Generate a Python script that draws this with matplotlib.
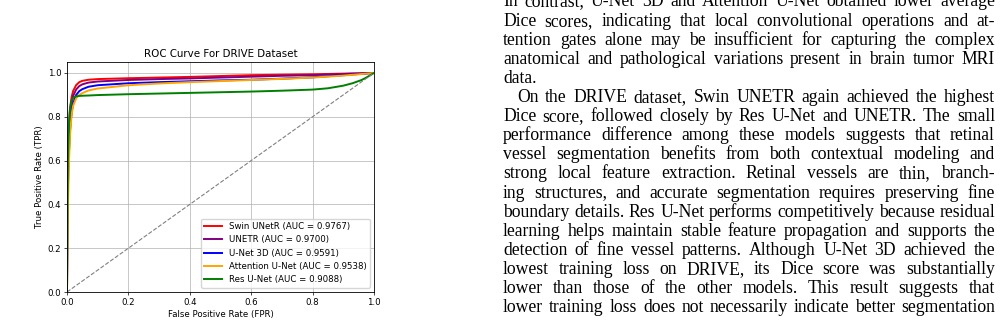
import matplotlib
matplotlib.use("Agg")
import matplotlib.pyplot as plt

# ROC points
fpr = [0, 0.001, 0.003, 0.006, 0.01, 0.015, 0.02, 0.03, 0.04, 0.05, 0.07,
       0.1, 0.2, 0.3, 0.4, 0.5, 0.6, 0.7, 0.8, 0.9, 1.0]
tpr_swin = [0, 0.35, 0.62, 0.76, 0.84, 0.89, 0.918, 0.945, 0.958, 0.964, 0.969,
            0.972, 0.976, 0.979, 0.982, 0.986, 0.99, 0.992, 0.994, 0.997, 1.0]
tpr_unetr = [0, 0.3, 0.56, 0.71, 0.8, 0.86, 0.895, 0.925, 0.94, 0.948, 0.956,
             0.961, 0.968, 0.972, 0.975, 0.979, 0.983, 0.987, 0.99, 0.995, 1.0]
tpr_unet3d = [0, 0.25, 0.48, 0.63, 0.74, 0.82, 0.86, 0.9, 0.917, 0.926, 0.937,
              0.944, 0.953, 0.958, 0.962, 0.966, 0.969, 0.974, 0.98, 0.99, 1.0]
tpr_att = [0, 0.15, 0.38, 0.58, 0.72, 0.81, 0.85, 0.885, 0.9, 0.908, 0.92,
           0.929, 0.944, 0.952, 0.958, 0.963, 0.968, 0.973, 0.979, 0.988, 1.0]
fpr_res = [0, 0.001, 0.003, 0.006, 0.01, 0.015, 0.02, 0.03, 0.04, 0.05, 0.07,
           0.1, 0.2, 0.3, 0.4, 0.5, 0.6, 0.7, 0.8, 0.85, 0.9, 0.93, 0.96, 0.98, 1.0]
tpr_res = [0, 0.3, 0.6, 0.76, 0.84, 0.875, 0.887, 0.893, 0.895, 0.896, 0.897,
           0.899, 0.903, 0.906, 0.909, 0.912, 0.915, 0.919, 0.924, 0.93, 0.942,
           0.953, 0.968, 0.983, 1.0]

labels = ["Swin UNetR (AUC = 0.9767)", "UNETR (AUC = 0.9700)", "U-Net 3D (AUC = 0.9591)",
          "Attention U-Net (AUC = 0.9538)", "Res U-Net (AUC = 0.9088)"]
colors = ["red", "purple", "blue", "orange", "green"]

# body text next to the figure
text_lines = [
    "In contrast, U-Net 3D and Attention U-Net obtained lower average",
    "Dice scores, indicating that local convolutional operations and at-",
    "tention gates alone may be insufficient for capturing the complex",
    "anatomical and pathological variations present in brain tumor MRI",
    "data.",
    "On the DRIVE dataset, Swin UNETR again achieved the highest",
    "Dice score, followed closely by Res U-Net and UNETR. The small",
    "performance difference among these models suggests that retinal",
    "vessel segmentation benefits from both contextual modeling and",
    "strong local feature extraction. Retinal vessels are thin, branch-",
    "ing structures, and accurate segmentation requires preserving fine",
    "boundary details. Res U-Net performs competitively because residual",
    "learning helps maintain stable feature propagation and supports the",
    "detection of fine vessel patterns. Although U-Net 3D achieved the",
    "lowest training loss on DRIVE, its Dice score was substantially",
    "lower than those of the other models. This result suggests that",
    "lower training loss does not necessarily indicate better segmentation",
]
ragged = {4}      # last line of a paragraph
indented = {5}    # first line of a paragraph

W, H = 1005, 326
fig = plt.figure(figsize=(W / 100, H / 100), dpi=100)
ax = fig.add_axes([67 / W, 34 / H, 307 / W, 230 / H])

tprs = [tpr_swin, tpr_unetr, tpr_unet3d, tpr_att]
for t, lab, c in zip(tprs, labels[:4], colors[:4]):
    ax.plot(fpr, t, color=c, lw=1.4, label=lab)
ax.plot(fpr_res, tpr_res, color=colors[4], lw=1.4, label=labels[4])
ax.plot([0, 1], [0, 1], "--", color="gray", lw=0.8)

ax.set_xlim(0, 1)
ax.set_ylim(0, 1.05)
ax.set_xticks([0, 0.2, 0.4, 0.6, 0.8, 1.0])
ax.set_yticks([0, 0.2, 0.4, 0.6, 0.8, 1.0])
ax.tick_params(labelsize=6.2, length=2.2, width=0.5, pad=2)
for s in ax.spines.values():
    s.set_linewidth(0.6)
ax.grid(True, color="#b0b0b0", lw=0.5)
ax.set_title("ROC Curve For DRIVE Dataset", fontsize=7.4, pad=3.7)
ax.set_xlabel("False Positive Rate (FPR)", fontsize=6.2, labelpad=2.5)
ax.set_ylabel("True Positive Rate (TPR)", fontsize=6.2, labelpad=2.5)
ax.legend(loc="lower right", fontsize=6.2)

# justified text column
fig.canvas.draw()
renderer = fig.canvas.get_renderer()
font = dict(family="Liberation Serif", size=12.7, color="black")
left, right = 503, 995
indent = 14


def width_of(s):
    t = fig.text(0, 0, s, **font)
    w = t.get_window_extent(renderer).width
    t.remove()
    return w


space = width_of("a a") - width_of("aa")
for i, line in enumerate(text_lines):
    words = line.split()
    widths = [width_of(w) for w in words]
    x0 = left + (indent if i in indented else 0)
    if i in ragged or len(words) == 1:
        gap = space
    else:
        gap = (right - x0 - sum(widths)) / (len(words) - 1)
    base = 6.5 + i * 19.1
    x = x0
    for w, ww in zip(words, widths):
        fig.text(x / W, 1 - base / H, w, ha="left", va="baseline", **font)
        x += ww + gap

fig.savefig("out.png", dpi=100)
